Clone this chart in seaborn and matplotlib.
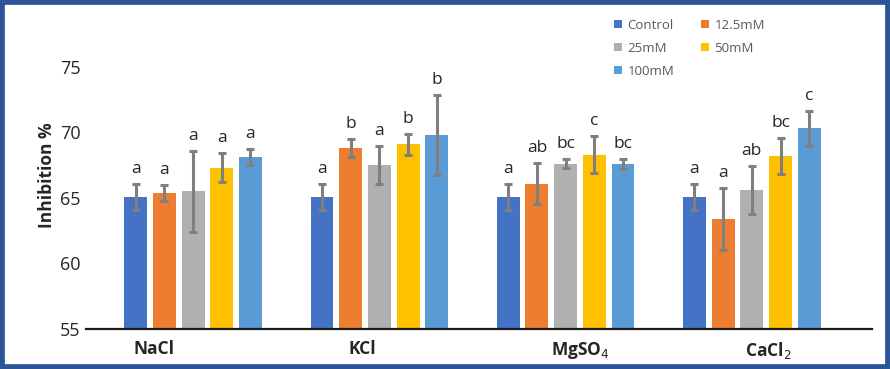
import matplotlib
matplotlib.use("Agg")
import matplotlib.pyplot as plt
from matplotlib.lines import Line2D
from matplotlib.patches import Rectangle
import seaborn as sns
import pandas as pd

# values
salts = ["NaCl", "KCl", "MgSO4", "CaCl2"]
salt_labels = ["NaCl", "KCl", "MgSO$_4$", "CaCl$_2$"]
levels = ["Control", "12.5mM", "25mM", "50mM", "100mM"]

control = [65.1, 65.1, 65.1, 65.1]
mm12_5 = [65.4, 68.8, 66.1, 63.4]
mm25 = [65.5, 67.5, 67.6, 65.6]
mm50 = [67.3, 69.1, 68.3, 68.2]
mm100 = [68.1, 69.8, 67.6, 70.3]

err_control = [1.0, 1.0, 1.0, 1.0]
err_12_5 = [0.6, 0.7, 1.6, 2.35]
err_25 = [3.1, 1.45, 0.35, 1.85]
err_50 = [1.1, 0.8, 1.4, 1.4]
err_100 = [0.6, 3.05, 0.4, 1.37]

let_control = ["a", "a", "a", "a"]
let_12_5 = ["a", "b", "ab", "a"]
let_25 = ["a", "a", "bc", "ab"]
let_50 = ["a", "b", "c", "bc"]
let_100 = ["a", "b", "bc", "c"]

colors = ["#4472C4", "#ED7D31", "#AFB0B2", "#FFC000", "#5B9BD5"]

means = [control, mm12_5, mm25, mm50, mm100]
errs = [err_control, err_12_5, err_25, err_50, err_100]
letters = [let_control, let_12_5, let_25, let_50, let_100]

rows = []
for lev, vals in zip(levels, means):
    for s, v in zip(salts, vals):
        rows.append({"salt": s, "level": lev, "value": v})
df = pd.DataFrame(rows)

sns.set_style("white")
plt.rcParams["font.family"] = ["Open Sans", "DejaVu Sans"]

fig = plt.figure(figsize=(8.9, 3.69), dpi=100)
ax = fig.add_axes([86 / 890, 1 - 329 / 369, (872 - 86) / 890, (329 - 21) / 369])

sns.barplot(data=df, x="salt", y="value", hue="level", order=salts,
            hue_order=levels, palette=colors, saturation=1, errorbar=None,
            width=0.77, gap=0.2, linewidth=0, legend=False, ax=ax)

# error bars and letters on top of each bar
for cont, e, lets in zip(ax.containers, errs, letters):
    for bar, er, lt in zip(cont, e, lets):
        xc = bar.get_x() + bar.get_width() / 2
        h = bar.get_height()
        ax.errorbar(xc, h, yerr=er, fmt="none", ecolor="#7F7F7F",
                    elinewidth=2.2, capsize=3, capthick=2.2, zorder=3)
        ax.annotate(lt, (xc, h + er), xytext=(0, 5), textcoords="offset points",
                    ha="center", va="bottom", fontsize=12.5, color="#262626")

ax.set_ylim(55, 78.5)
ax.set_xlim(-0.575, 3.645)
ax.set_yticks([55, 60, 65, 70, 75])
ax.tick_params(axis="y", length=0, pad=4, labelsize=13, labelcolor="#262626")
ax.set_xticks([-0.21, 0.91, 2.08, 3.09])
ax.set_xticklabels(salt_labels, fontweight="bold", fontsize=12.5, color="#262626")
ax.tick_params(axis="x", length=0, pad=8)
ax.set_xlabel("")
ax.set_ylabel("Inhibition %", fontweight="bold", fontsize=12.5, labelpad=3, color="#262626")

for side in ["top", "right", "left"]:
    ax.spines[side].set_visible(False)
ax.spines["bottom"].set_color("#1a1a1a")
ax.spines["bottom"].set_linewidth(1.6)

# legend, row-wise order like the reference
handles = [Line2D([], [], marker="s", linestyle="", markersize=6,
                  markerfacecolor=c, markeredgewidth=0) for c in colors]
order = [0, 2, 4, 1, 3]
fig.legend([handles[i] for i in order], [levels[i] for i in order], ncol=2,
           loc="upper left", bbox_to_anchor=(601 / 890, 1 - 7 / 369),
           frameon=False, fontsize=9.5, labelcolor="#595959",
           handlelength=0.8, handletextpad=0.3, columnspacing=1.95,
           labelspacing=0.75)

# dark blue frame around the picture
fig.patches.append(Rectangle((0, 0), 1, 1, transform=fig.transFigure,
                             fill=False, edgecolor="#2B5597", linewidth=7))

fig.savefig("out.png", dpi=100)
